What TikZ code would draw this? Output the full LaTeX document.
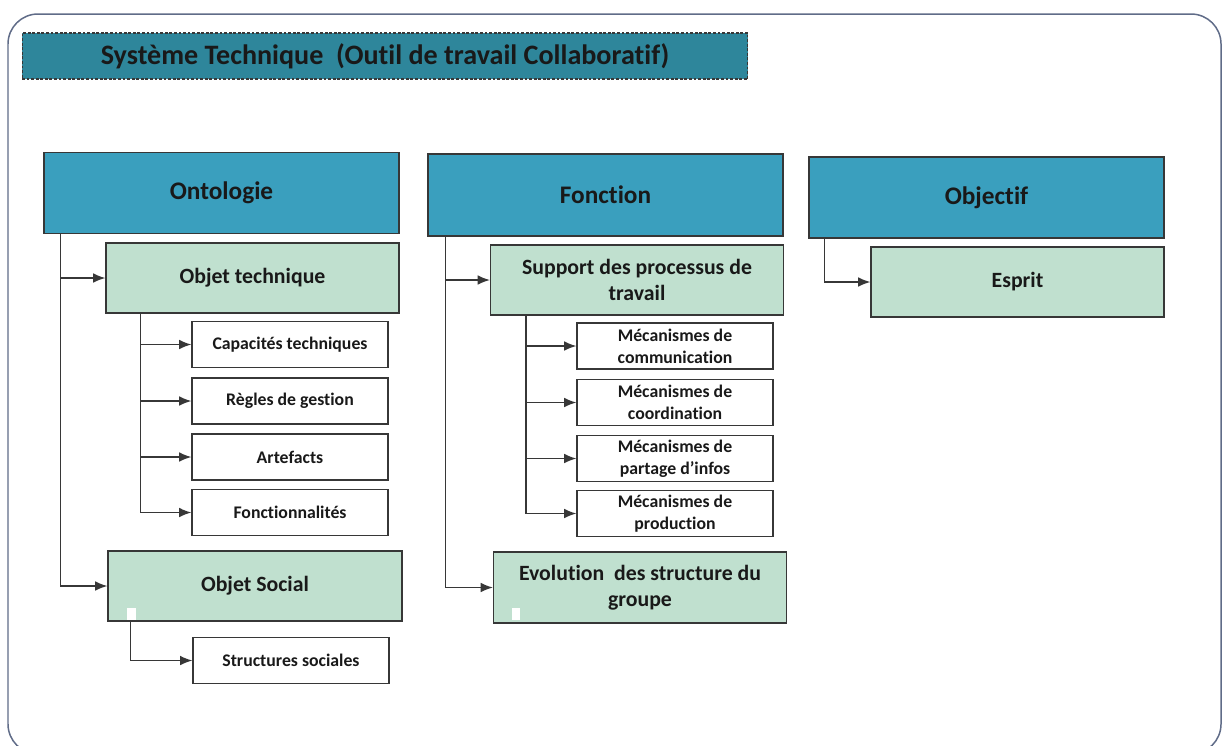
\documentclass[tikz,border=0pt]{standalone}
\usepackage{fontspec}
\setmainfont{Carlito}[Ligatures=NoCommon]
\usetikzlibrary{arrows.meta,calc}

\definecolor{sysFrame}{RGB}{96,108,136}
\definecolor{sysTitle}{RGB}{46,134,155}
\definecolor{sysHead}{RGB}{58,159,190}
\definecolor{sysSub}{RGB}{192,224,207}
\definecolor{sysEdge}{RGB}{55,55,55}
\definecolor{sysText}{RGB}{25,25,25}

\begin{document}
\begin{tikzpicture}[x=.02cm,y=-.02cm,
      titlebox/.style={draw=sysEdge, dash pattern=on 1.6pt off 1pt,
        fill=sysTitle, line width=.6pt, inner sep=0pt,
        minimum width=14.52cm, minimum height=.92cm,
        font=\fontsize{16}{18}\selectfont\bfseries, text=sysText},
      headbox/.style={draw=sysEdge, fill=sysHead, line width=.7pt,
        inner sep=0pt, minimum width=7.1cm, minimum height=1.62cm,
        font=\fontsize{14.4}{16}\selectfont\bfseries, text=sysText},
      subbox/.style={draw=sysEdge, fill=sysSub, line width=.7pt,
        inner sep=0pt, minimum width=5.86cm, minimum height=1.4cm,
        align=center, font=\fontsize{12.4}{15}\selectfont\bfseries,
        text=sysText},
      leafbox/.style={draw=sysEdge, fill=white, line width=.7pt,
        inner sep=0pt, minimum width=3.92cm, minimum height=.92cm,
        align=center, font=\fontsize{10.1}{12.6}\selectfont\bfseries,
        text=sysText},
      link/.style={draw=sysEdge, line width=.8pt,
        -{Latex[length=7pt,width=5.5pt]}},
      speck/.style={fill=white}]
      \clip (0,0) rectangle (1222,745);
      \fill[white] (0,0) rectangle (1222,745);

      % Outer frame, cut by the page on the right and at the bottom.
      \draw[sysFrame, line width=.85pt, rounded corners=.6cm]
        (8,14) rectangle (1221,754);

      \node[titlebox] (title) at (385,56)
        {Système Technique\ \ (Outil de travail Collaboratif)};

      % Ontologie branch.
      \node[headbox] (onto) at (221.5,193) {Ontologie};
      \node[subbox] (objtech) at (252.5,278) {Objet technique};
      \node[subbox, minimum width=5.88cm] (objsoc) at (255,586) {Objet Social};
      \foreach \name/\cy/\txt in {
          capa/344.5/Capacités techniques,
          regl/401/Règles de gestion,
          arte/457/Artefacts,
          fonc/512.5/Fonctionnalités}{
        \node[leafbox] (\name) at (290,\cy) {\txt};}
      \node[leafbox] (struc) at (291,660.5) {Structures sociales};

      \draw[link] ($(onto.south west)+(17,0)$) |- (objtech);
      \draw[link] ($(onto.south west)+(17,0)$) |- (objsoc);
      \foreach \name in {capa,regl,arte,fonc}{
        \draw[link] ($(objtech.south west)+(35,0)$) |- (\name);}
      \draw[link] ($(objsoc.south west)+(23,0)$) |- (struc);
      \fill[speck] (127,608) rectangle (136,620);

      % Fonction branch.
      \node[headbox, minimum height=1.64cm] (fonct) at (605.5,195) {Fonction};
      \node[subbox] (supp) at (637,280) {Support des processus de\\travail};
      \node[subbox, minimum height=1.42cm] (evol) at (640,587.5)
        {Evolution\ \ des structure du\\groupe};
      \foreach \name/\cy/\txt in {
          comm/346/communication,
          coor/402.5/coordination,
          part/458.5/partage d’infos,
          prod/513.5/production}{
        \node[leafbox] (\name) at (675,\cy) {Mécanismes de\\\txt};}

      \draw[link] ($(fonct.south west)+(18,0)$) |- (supp);
      \draw[link] ($(fonct.south west)+(18,0)$) |- (evol);
      \foreach \name in {comm,coor,part,prod}{
        \draw[link] ($(supp.south west)+(36,0)$) |- (\name);}
      \fill[speck] (512,608) rectangle (520,620);

      % Objectif branch.
      \node[headbox] (objec) at (986.5,197.5) {Objectif};
      \node[subbox] (esprit) at (1017.5,282) {Esprit};
      \draw[link] ($(objec.south west)+(16,0)$) |- (esprit);
    \end{tikzpicture}
\end{document}
